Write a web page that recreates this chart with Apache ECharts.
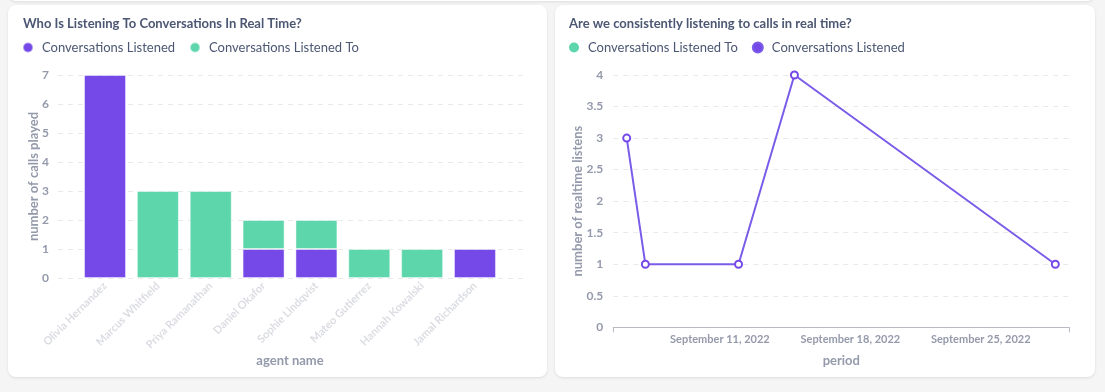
<!DOCTYPE html>
<html>
<head>
<meta charset="utf-8">
<script src="https://cdn.jsdelivr.net/npm/echarts@6/dist/echarts.min.js"></script>
<style>
  html, body { margin: 0; padding: 0; width: 1105px; height: 392px; background: #f5f5f6; overflow: hidden; font-family: Lato, sans-serif; }
  .card { position: absolute; background: #fff; border-radius: 8px; box-shadow: 0 1px 3px rgba(0,0,0,0.10); }
  #topcard { left: 8px; top: -100px; width: 1087px; height: 101px; }
  #c1 { left: 8px; top: 5px; width: 539px; height: 372px; }
  #c2 { left: 555px; top: 5px; width: 540px; height: 372px; }
</style>
</head>
<body>
<div class="card" id="topcard"></div>
<div class="card" id="c1"></div>
<div class="card" id="c2"></div>
<script>
// ---------- Data: left chart ----------
const agentNames = [
  'Olivia Hernandez', 'Marcus Whitfield', 'Priya Ramanathan', 'Daniel Okafor',
  'Sophie Lindqvist', 'Mateo Gutierrez', 'Hannah Kowalski', 'Jamal Richardson'
];
const conversationsListened   = [7, 0, 0, 1, 1, 0, 0, 1];
const conversationsListenedTo = [0, 3, 3, 1, 1, 1, 1, 0];

// ---------- Data: right chart ----------
const periodDates      = ['2022-09-06', '2022-09-07', '2022-09-12', '2022-09-15', '2022-09-29'];
const realtimeListens  = [3, 1, 1, 4, 1];
const periodTickDates  = ['2022-09-11', '2022-09-18', '2022-09-25'];
const periodTickLabels = ['September 11, 2022', 'September 18, 2022', 'September 25, 2022'];

// ---------- Styles ----------
const PURPLE = '#7549e8';
const GREEN  = '#5dd6ac';
const DARK   = '#4c5773';
const LIGHT  = '#949aab';
const FONT   = 'Lato';
const gridLine = { show: true, lineStyle: { color: '#e9e9ec', type: [5, 5], width: 1 } };

function toTs(s) { const p = s.split('-').map(Number); return Date.UTC(p[0], p[1] - 1, p[2]); }
const DAY = 86400000;

// ---------- Left chart ----------
const chart1 = echarts.init(document.getElementById('c1'), null, { renderer: 'canvas' });
chart1.setOption({
  animation: false,
  textStyle: { fontFamily: FONT },
  title: {
    text: 'Who Is Listening To Conversations In Real Time?',
    left: 15, top: 12, padding: 0,
    textStyle: { fontFamily: FONT, fontSize: 13, fontWeight: 'bold', color: DARK }
  },
  legend: {
    data: ['Conversations Listened', 'Conversations Listened To'],
    left: 14, top: 36, padding: 0, icon: 'circle', itemWidth: 10, itemHeight: 10, itemGap: 14,
    textStyle: { fontFamily: FONT, fontSize: 13, color: DARK, padding: [0, 0, 0, 4] }
  },
  grid: [
    { left: 50, right: 24, top: 70, bottom: 99, outerBoundsMode: 'none' },
    { left: 70.6, right: 45.6, top: 70, bottom: 99, outerBoundsMode: 'none' }
  ],
  xAxis: [
    { gridIndex: 0, type: 'value', min: 0, max: 1, show: false },
    {
      gridIndex: 1, type: 'category', data: agentNames,
      axisLine: { show: false }, axisTick: { show: false },
      axisLabel: { rotate: 45, interval: 0, margin: 6, color: '#dcdde3', fontFamily: FONT, fontSize: 11, fontWeight: 'bold' },
      name: 'agent name', nameLocation: 'middle', nameGap: 76, nameMoveOverlap: false,
      nameTextStyle: { fontFamily: FONT, fontSize: 13, fontWeight: 'bold', color: LIGHT }
    }
  ],
  yAxis: [
    {
      gridIndex: 0, type: 'value', min: 0, max: 7, interval: 1,
      axisLine: { show: false }, axisTick: { show: false },
      axisLabel: { color: LIGHT, fontFamily: FONT, fontSize: 12, fontWeight: 'bold', margin: 9 },
      splitLine: gridLine,
      name: 'number of calls played', nameLocation: 'middle', nameGap: 18, nameRotate: 90, nameMoveOverlap: false,
      nameTextStyle: { fontFamily: FONT, fontSize: 13, fontWeight: 'bold', color: LIGHT }
    },
    { gridIndex: 1, type: 'value', min: 0, max: 7, show: false }
  ],
  series: [
    {
      name: 'Conversations Listened', type: 'bar', stack: 'total', xAxisIndex: 1, yAxisIndex: 1,
      barWidth: 42, data: conversationsListened.map(v => v || null),
      itemStyle: { color: PURPLE, borderColor: 'rgba(255,255,255,0.45)', borderWidth: 1 }
    },
    {
      name: 'Conversations Listened To', type: 'bar', stack: 'total', xAxisIndex: 1, yAxisIndex: 1,
      barWidth: 42, data: conversationsListenedTo.map(v => v || null),
      itemStyle: { color: GREEN, borderColor: 'rgba(255,255,255,0.45)', borderWidth: 1 }
    }
  ]
});

// ---------- Right chart ----------
const firstTs = toTs(periodDates[0]);
const lastTs = toTs(periodDates[periodDates.length - 1]);
const xMin = firstTs - 0.72 * DAY;
const xMax = lastTs + 0.75 * DAY;
const tickTs = periodTickDates.map(toTs);

const chart2 = echarts.init(document.getElementById('c2'), null, { renderer: 'canvas' });
chart2.setOption({
  animation: false,
  textStyle: { fontFamily: FONT },
  title: {
    text: 'Are we consistently listening to calls in real time?',
    left: 14, top: 12, padding: 0,
    textStyle: { fontFamily: FONT, fontSize: 13, fontWeight: 'bold', color: DARK }
  },
  legend: {
    data: ['Conversations Listened To', 'Conversations Listened'],
    left: 14, top: 36, padding: 0, icon: 'circle', itemWidth: 10, itemHeight: 10, itemGap: 14,
    textStyle: { fontFamily: FONT, fontSize: 13, color: DARK, padding: [0, 0, 0, 4] }
  },
  grid: { left: 58.3, right: 25.7, top: 70, bottom: 49.7, outerBoundsMode: 'none' },
  xAxis: {
    type: 'value', min: xMin, max: xMax, scale: true,
    axisLine: { show: true, onZero: false, lineStyle: { color: '#b9bcc6', width: 1 } },
    axisTick: { show: true, customValues: [xMin, xMax], length: 5, lineStyle: { color: '#b9bcc6' } },
    axisLabel: {
      customValues: tickTs, margin: 7, color: LIGHT, fontFamily: FONT, fontSize: 11, fontWeight: 'bold',
      formatter: function (v) { const i = tickTs.indexOf(v); return i >= 0 ? periodTickLabels[i] : ''; }
    },
    splitLine: { show: false },
    name: 'period', nameLocation: 'middle', nameGap: 27, nameMoveOverlap: false,
    nameTextStyle: { fontFamily: FONT, fontSize: 13, fontWeight: 'bold', color: LIGHT }
  },
  yAxis: {
    type: 'value', min: 0, max: 4, interval: 0.5,
    axisLine: { show: false }, axisTick: { show: false },
    axisLabel: { color: LIGHT, fontFamily: FONT, fontSize: 12, fontWeight: 'bold', margin: 10 },
    splitLine: gridLine,
    name: 'number of realtime listens', nameLocation: 'middle', nameGap: 29, nameRotate: 90, nameMoveOverlap: false,
    nameTextStyle: { fontFamily: FONT, fontSize: 13, fontWeight: 'bold', color: LIGHT }
  },
  series: [
    {
      name: 'Conversations Listened To', type: 'line', data: [],
      itemStyle: { color: GREEN }, lineStyle: { color: GREEN }
    },
    {
      name: 'Conversations Listened', type: 'line',
      data: periodDates.map((d, i) => [toTs(d), realtimeListens[i]]),
      symbol: 'emptyCircle', symbolSize: 7,
      itemStyle: { color: PURPLE, borderColor: '#7a5ce8', borderWidth: 2 },
      lineStyle: { color: '#7a5ce8', width: 2 }
    }
  ]
});
</script>
</body>
</html>
